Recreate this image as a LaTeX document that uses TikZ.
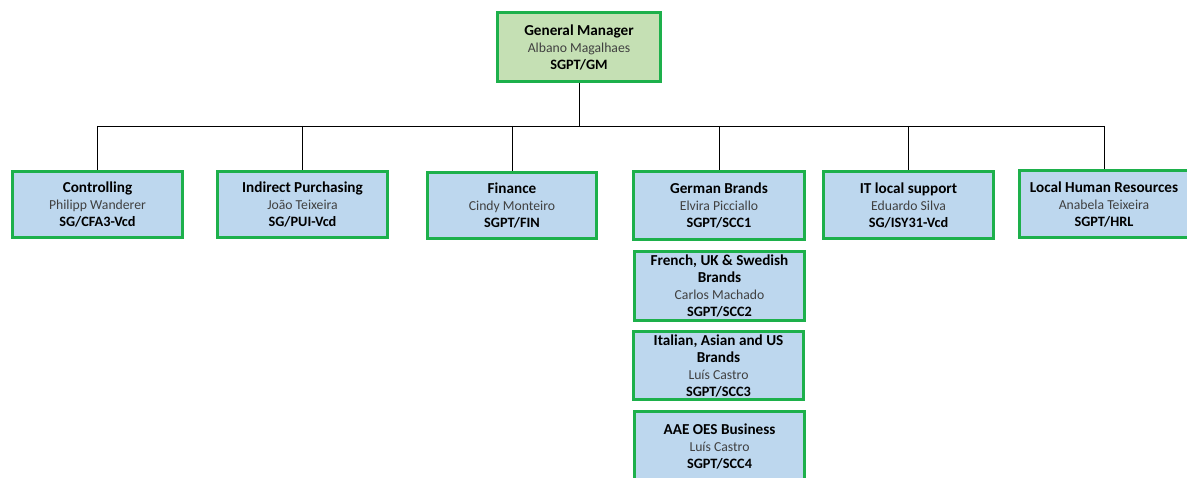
\documentclass[tikz,border=0pt]{standalone}
\usepackage{fontspec}
\setmainfont{Carlito}
\definecolor{bordergreen}{HTML}{1DB04B}
\definecolor{gmfill}{HTML}{C5E0B4}
\definecolor{bluefill}{HTML}{BDD7EE}
\definecolor{namegray}{HTML}{404040}
\tikzset{
  orgbox/.style={draw=bordergreen, line width=2.6pt, fill=bluefill, align=center,
    font=\fontsize{14}{17}\selectfont, inner sep=0pt, text=black},
  gmbox/.style={orgbox, fill=gmfill},
  conn/.style={draw=black, line width=0.9pt}
}
\newcommand{\ti}[1]{{\fontsize{15.2}{17}\selectfont\textbf{#1}}}
\newcommand{\nm}[1]{{\fontsize{13.7}{17}\selectfont\color{namegray}#1}}
\newcommand{\cd}[1]{{\fontsize{14.3}{17}\selectfont\textbf{#1}}}
\begin{document}
\begin{tikzpicture}[x=1pt,y=-1pt]
\useasboundingbox[fill=white] (0,0) rectangle (1187,478);
\begin{scope}
\clip (0,0) rectangle (1187,478);
\node[gmbox, minimum width=163pt, minimum height=69pt] (gm) at (579,47)
  {\ti{General Manager}\\\nm{Albano Magalhaes}\\\cd{SGPT/GM}};
\node[orgbox, minimum width=170pt, minimum height=66pt] (ctrl) at (97.5,204.5)
  {\ti{Controlling}\\\nm{Philipp Wanderer}\\\cd{SG/CFA3-Vcd}};
\node[orgbox, minimum width=170pt, minimum height=66pt] (pur) at (302.5,204.5)
  {\ti{Indirect Purchasing}\\\nm{João Teixeira}\\\cd{SG/PUI-Vcd}};
\node[orgbox, minimum width=169pt, minimum height=66pt] (fin) at (512,205.5)
  {\ti{Finance}\\\nm{Cindy Monteiro}\\\cd{SGPT/FIN}};
\node[orgbox, minimum width=171pt, minimum height=68pt] (ger) at (719,205.5)
  {\ti{German Brands}\\\nm{Elvira Picciallo}\\\cd{SGPT/SCC1}};
\node[orgbox, minimum width=170pt, minimum height=67pt] (it) at (908.5,205)
  {\ti{IT local support}\\\nm{Eduardo Silva}\\\cd{SG/ISY31-Vcd}};
\node[orgbox, minimum width=169pt, minimum height=67pt] (hr) at (1104,204)
  {\ti{Local Human Resources}\\\nm{Anabela Teixeira}\\\cd{SGPT/HRL}};
\node[orgbox, minimum width=170pt, minimum height=69pt] (fr) at (719.5,286)
  {\ti{French, UK \& Swedish}\\\ti{Brands}\\\nm{Carlos Machado}\\\cd{SGPT/SCC2}};
\node[orgbox, minimum width=170pt, minimum height=68pt] (itl) at (718.5,365.5)
  {\ti{Italian, Asian and US}\\\ti{Brands}\\\nm{Luís Castro}\\\cd{SGPT/SCC3}};
\node[orgbox, minimum width=170pt, minimum height=69pt] (aae) at (719.5,446)
  {\ti{AAE OES Business}\\\nm{Luís Castro}\\\cd{SGPT/SCC4}};
\end{scope}
\coordinate (bus) at (579,126);
\coordinate (b1) at (97.5,126);
\coordinate (b2) at (302.5,126);
\coordinate (b3) at (512,126);
\coordinate (b4) at (719,126);
\coordinate (b5) at (908.5,126);
\coordinate (b6) at (1104,126);
\draw[conn] (gm.south) -- (bus);
\draw[conn] (b1) -- (b6);
\draw[conn] (b1) -- (ctrl.north);
\draw[conn] (b2) -- (pur.north);
\draw[conn] (b3) -- (fin.north);
\draw[conn] (b4) -- (ger.north);
\draw[conn] (b5) -- (it.north);
\draw[conn] (b6) -- (hr.north);
\end{tikzpicture}
\end{document}
